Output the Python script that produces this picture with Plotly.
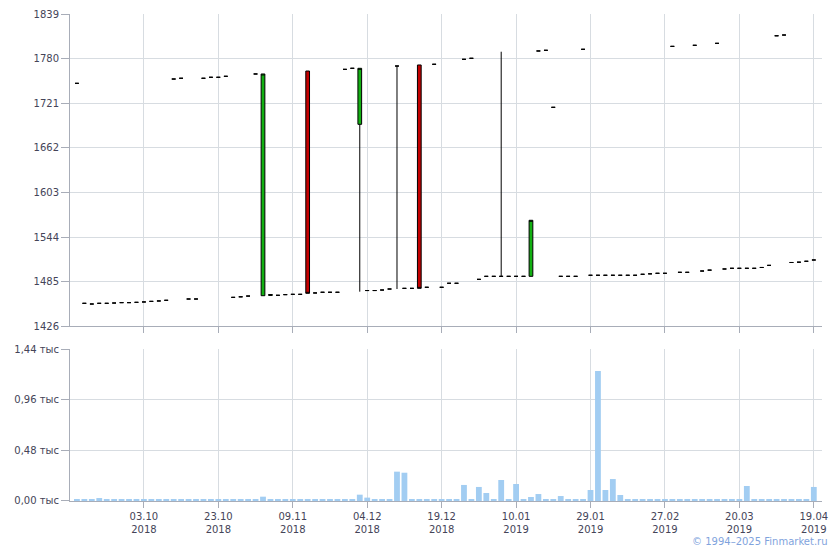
import plotly.graph_objects as go
from plotly.subplots import make_subplots

# ---- data ----
day_index = list(range(100))

price = [1747.3, 1456.4, 1455.5, 1456.4, 1456.4, 1456.8, 1457.3, 1457.3, 1457.7, 1458.2,
         1459.0, 1459.5, 1460.4, 1753.0, 1754.0, 1462.1, 1462.1, 1754.0, 1755.3, 1755.3,
         1756.6, 1464.3, 1465.0, 1466.0, 1759.7, 1759.7, 1468.0, 1467.0, 1467.9, 1468.3,
         1468.3, 1469.6, 1470.1, 1471.0, 1471.0, 1471.0, 1765.8, 1767.2, 1767.2, 1473.3,
         1473.3, 1474.0, 1475.3, 1770.2, 1476.2, 1476.2, 1476.2, 1477.6, 1772.5, 1477.6,
         1482.9, 1482.9, 1779.1, 1780.4, 1488.1, 1492.1, 1492.1, 1492.1, 1492.1, 1492.1,
         1492.1, 1566.2, 1790.1, 1791.0, 1715.6, 1492.1, 1492.1, 1492.1, 1792.3, 1493.5,
         1493.5, 1493.5, 1493.5, 1493.5, 1493.5, 1493.5, 1494.8, 1495.4, 1496.1, 1496.1,
         1796.2, 1497.4, 1497.4, 1797.6, 1499.1, 1500.3, 1800.2, 1501.8, 1502.7, 1502.7,
         1502.7, 1502.7, 1503.8, 1506.6, 1810.2, 1811.2, 1510.4, 1510.8, 1512.0, 1513.7]

candle_idx = [25, 26, 31, 38, 43, 46, 57, 61]
candle_open = [1466.5, 1466.8, 1763.6, 1693.1, 1770.2, 1771.6, 1492.1, 1492.1]
candle_high = [1759.7, 1468.0, 1763.6, 1767.2, 1770.2, 1771.6, 1789.1, 1566.2]
candle_low = [1466.5, 1466.8, 1469.6, 1471.8, 1475.3, 1476.2, 1492.1, 1492.1]

volume = [12, 12, 12, 28, 12, 12, 12, 12, 12, 12,
          12, 19, 12, 12, 12, 12, 12, 12, 12, 12,
          12, 12, 12, 12, 12, 41, 12, 12, 12, 19,
          12, 19, 12, 12, 19, 12, 19, 12, 60, 32,
          12, 12, 12, 278, 268, 19, 12, 12, 12, 12,
          12, 12, 152, 12, 133, 76, 12, 199, 12, 161,
          19, 38, 66, 12, 12, 47, 12, 12, 19, 104,
          1232, 104, 208, 57, 19, 12, 12, 12, 12, 12,
          12, 12, 12, 12, 12, 12, 12, 12, 12, 12,
          142, 12, 12, 12, 12, 12, 12, 12, 12, 133]

tick_idx = [9, 19, 29, 39, 49, 59, 69, 79, 89, 99]
tick_labels = ["03.10<br>2018", "23.10<br>2018", "09.11<br>2018", "04.12<br>2018",
               "19.12<br>2018", "10.01<br>2019", "29.01<br>2019", "27.02<br>2019",
               "20.03<br>2019", "19.04<br>2019"]

price_ticks = [1426, 1485, 1544, 1603, 1662, 1721, 1780, 1839]
vol_ticks = [0, 480, 960, 1440]
vol_tick_labels = ["0,00 тыс", "0,48 тыс", "0,96 тыс", "1,44 тыс"]

# ---- build OHLC ----
o = list(price)
h = list(price)
l = list(price)
c = list(price)
for k, i in enumerate(candle_idx):
    o[i] = candle_open[k]
    h[i] = candle_high[k]
    l[i] = candle_low[k]

fig = make_subplots(rows=2, cols=1, shared_xaxes=False, vertical_spacing=0.0)

fig.add_trace(go.Candlestick(
    x=day_index, open=o, high=h, low=l, close=c,
    increasing=dict(fillcolor="#12b012", line=dict(color="#000000", width=1)),
    decreasing=dict(fillcolor="#c40000", line=dict(color="#000000", width=1)),
    whiskerwidth=0, showlegend=False), row=1, col=1)

fig.add_trace(go.Bar(
    x=day_index, y=volume, width=0.78,
    marker=dict(color="#a2cdf2", line=dict(width=0)),
    showlegend=False), row=2, col=1)

axis_col = "#a8adb8"
grid_col = "#d7dce1"
font_col = "#444458"
xr = [-0.93, 100.1]

common_x = dict(range=xr, tickmode="array", tickvals=tick_idx, showgrid=True,
                gridcolor=grid_col, gridwidth=1, showline=True, linecolor=axis_col,
                linewidth=1, ticks="outside", ticklen=6, tickcolor=axis_col,
                zeroline=False, fixedrange=True, automargin=False)

fig.update_layout(
    template="none",
    width=840, height=550,
    margin=dict(l=70, r=18, t=14, b=49, autoexpand=False),
    paper_bgcolor="white", plot_bgcolor="white",
    font=dict(family="DejaVu Sans", size=10, color=font_col),
    boxgap=0.5, boxgroupgap=0.0,
    xaxis=dict(domain=[0, 1], showticklabels=False, rangeslider=dict(visible=False),
               ticktext=tick_labels, **common_x),
    xaxis2=dict(domain=[0, 1], showticklabels=True, ticktext=tick_labels, **common_x),
    yaxis=dict(domain=[0.3587, 1.0], range=[1426, 1839], tickmode="array",
               tickvals=price_ticks, showgrid=True, gridcolor=grid_col,
               showline=True, linecolor=axis_col, ticks="outside", ticklen=8,
               tickcolor=axis_col, zeroline=False, automargin=False),
    yaxis2=dict(domain=[0.0, 0.3121], range=[0, 1440], tickmode="array",
                tickvals=vol_ticks, ticktext=vol_tick_labels, showgrid=True,
                gridcolor=grid_col, showline=True, linecolor=axis_col, ticks="outside",
                ticklen=8, tickcolor=axis_col, zeroline=False, automargin=False),
    bargap=0.2,
    annotations=[dict(text="© 1994–2025 Finmarket.ru", xref="paper", yref="paper",
                      x=1.011, y=-0.084, xanchor="right", yanchor="middle",
                      showarrow=False, font=dict(size=10, color="#7fa3dd"))],
)

fig.write_html("out.html", config={"displayModeBar": False},
               post_script="document.body.style.margin='0';")
